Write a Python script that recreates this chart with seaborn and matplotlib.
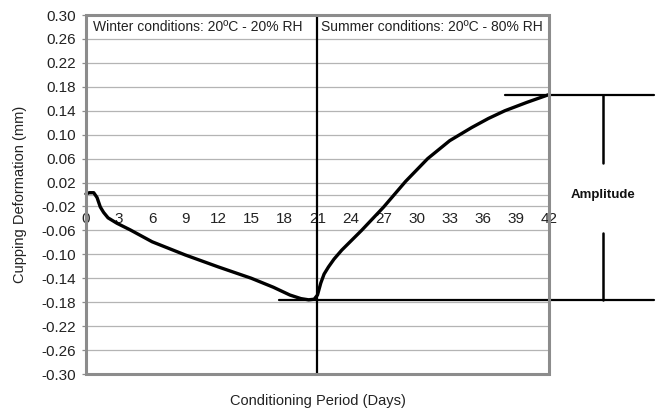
import numpy as np
import pandas as pd
import matplotlib
matplotlib.use("Agg")
import matplotlib.pyplot as plt
from matplotlib.patches import Rectangle
import seaborn as sns

# ---- data ----
days = [0, 0.3, 0.7, 1.0, 1.3, 1.6, 2.0, 2.8, 4.0, 5.0, 6.0, 9.0, 12.0, 15.0,
        17.0, 18.5, 19.5, 20.2, 20.7, 21.0, 21.3, 21.6, 22.0, 22.5, 23.2, 25.0,
        27.0, 29.0, 31.0, 33.0, 35.0, 36.5, 38.0, 40.0, 42.0]
cupping = [0.001, 0.003, 0.003, -0.005, -0.021, -0.030, -0.039, -0.048, -0.059,
           -0.069, -0.079, -0.101, -0.121, -0.140, -0.155, -0.168, -0.174, -0.176,
           -0.175, -0.168, -0.148, -0.133, -0.121, -0.108, -0.093, -0.060, -0.021,
           0.022, 0.060, 0.090, 0.112, 0.127, 0.140, 0.154, 0.167]
x_ticks = list(range(0, 43, 3))
y_ticks = [0.30, 0.26, 0.22, 0.18, 0.14, 0.10, 0.06, 0.02,
           -0.02, -0.06, -0.10, -0.14, -0.18, -0.22, -0.26, -0.30]
switch_day = 21
winter_label = "Winter conditions: 20ºC - 20% RH"
summer_label = "Summer conditions: 20ºC - 80% RH"

df = pd.DataFrame({"day": days, "cupping": cupping})

sns.set_style("white")
plt.rcParams["font.family"] = ["Liberation Sans", "DejaVu Sans"]

fig = plt.figure(figsize=(6.59, 4.11), dpi=100)
ax = fig.add_axes([0.1305, 0.09, 0.7025, 0.8735])

grid_c = "#b4b4b4"
for yv in y_ticks:
    ax.axhline(yv, color=grid_c, lw=0.9, zorder=0)

sns.lineplot(data=df, x="day", y="cupping", ax=ax, color="black", lw=2.4,
             zorder=5, clip_on=False)

ax.set_xlim(0, 42)
ax.set_ylim(-0.30, 0.30)

# frame
for s in ax.spines.values():
    s.set_visible(False)
ax.add_patch(Rectangle((0, 0), 1, 1, transform=ax.transAxes, fill=False,
                       ec="#8c8c8c", lw=2.2, clip_on=False, zorder=6))
ax.spines["bottom"].set_visible(True)
ax.spines["bottom"].set_position(("data", 0))
ax.spines["bottom"].set_color(grid_c)
ax.spines["bottom"].set_linewidth(0.9)

ax.set_xticks(x_ticks)
ax.set_xticklabels([str(t) for t in x_ticks])
ax.tick_params(axis="x", direction="in", length=3, color=grid_c, width=0.9,
               pad=12.5, labelsize=11, labelcolor="#222222")
ax.set_yticks(y_ticks)
ax.set_yticklabels([f"{v:.2f}" for v in y_ticks])
ax.tick_params(axis="y", direction="out", length=3, color="#8c8c8c", width=0.9,
               pad=4, labelsize=11, labelcolor="#222222", left=True)

# vertical switch line
ax.axvline(switch_day, color="black", lw=1.6, zorder=4)

# amplitude markers
vmin = min(cupping)
vmax = max(cupping)
dmin = days[cupping.index(vmin)]
ax.plot([dmin - 2.7, 51.5], [vmin, vmin], color="black", lw=1.6, clip_on=False, zorder=4)
ax.plot([38, 51.5], [vmax, vmax], color="black", lw=1.6, clip_on=False, zorder=4)
amp_x = 46.9
ax.plot([amp_x, amp_x], [vmax, vmax - 0.115], color="black", lw=1.8, clip_on=False)
ax.plot([amp_x, amp_x], [vmin + 0.112, vmin], color="black", lw=1.8, clip_on=False)
ax.text(amp_x, (vmax + vmin) / 2 + 0.004, "Amplitude", ha="center", va="center",
        fontsize=9.5, fontweight="bold", color="#111111")

ax.text(0.6, 0.28, winter_label, ha="left", va="center", fontsize=10, color="#222222")
ax.text(switch_day + 0.3, 0.28, summer_label, ha="left", va="center", fontsize=10,
        color="#222222")

ax.set_xlabel("Conditioning Period (Days)", fontsize=10.5, color="#222222")
ax.set_ylabel("Cupping Deformation (mm)", fontsize=10.5, color="#222222")
ax.xaxis.set_label_coords(0.5, -0.055)
ax.yaxis.set_label_coords(-0.127, 0.5)

fig.savefig("out.png", dpi=100)
